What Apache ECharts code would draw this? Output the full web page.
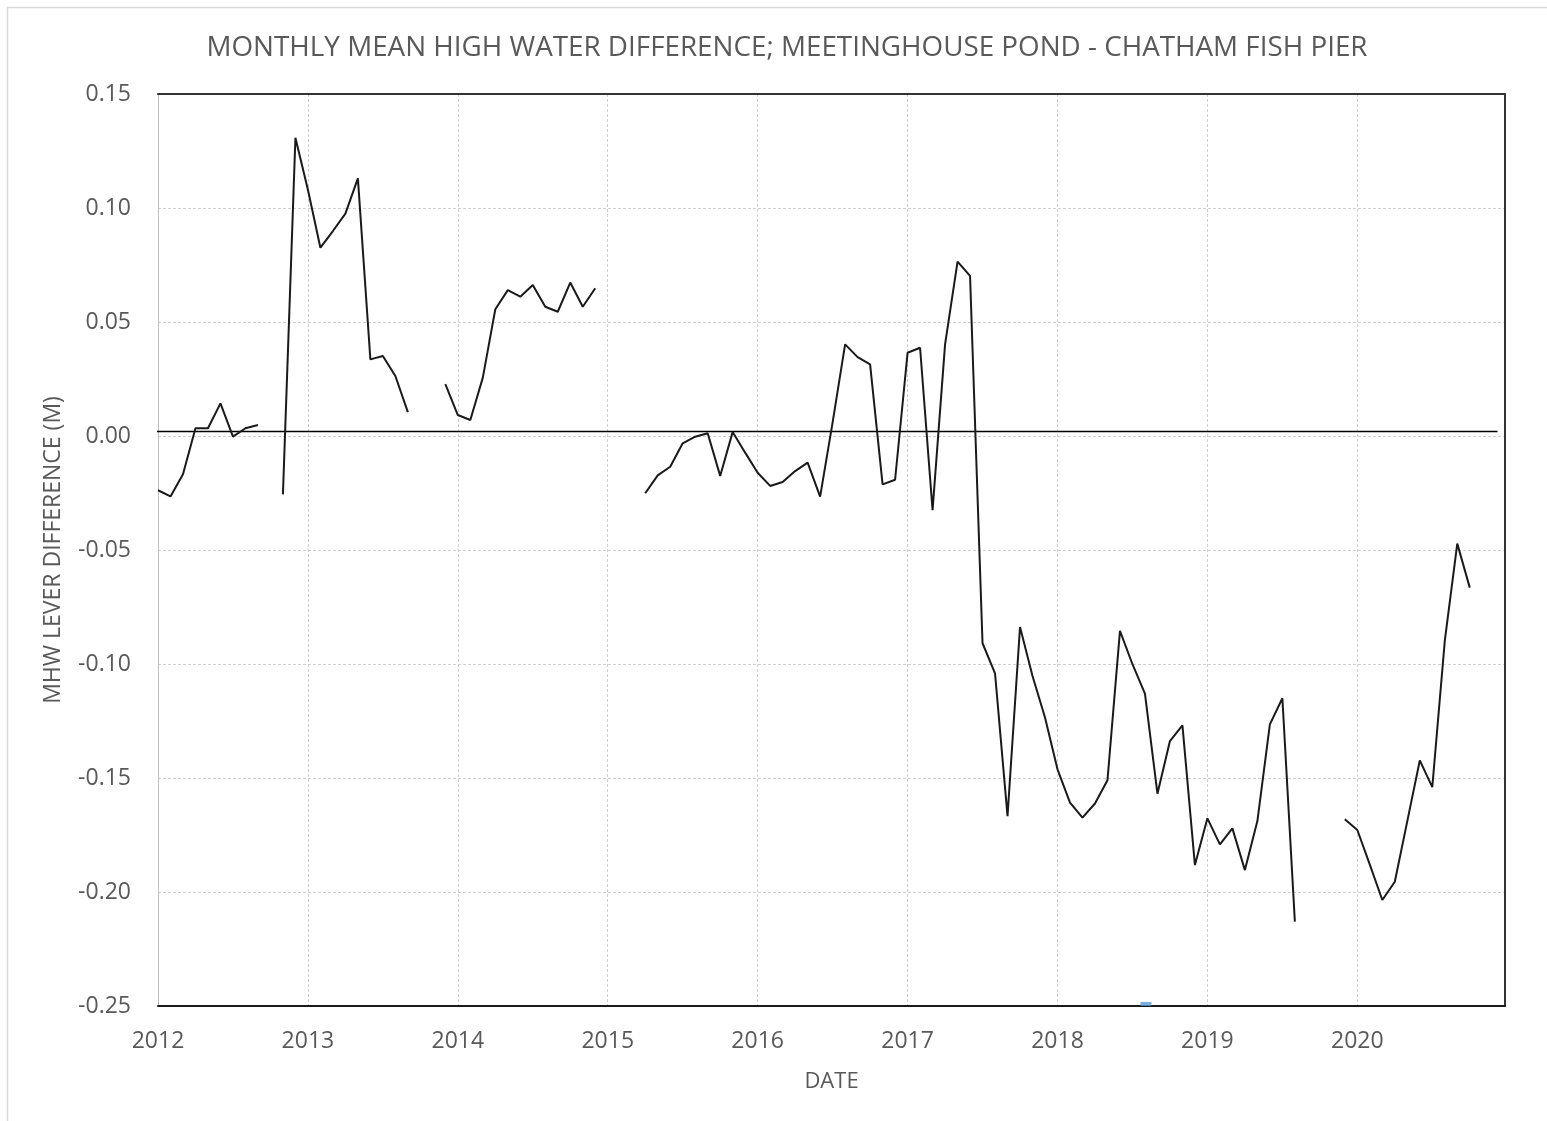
<!DOCTYPE html>
<html>
<head>
<meta charset="utf-8">
<title>Monthly Mean High Water Difference</title>
<script src="https://cdn.jsdelivr.net/npm/echarts@6/dist/echarts.min.js"></script>
<style>
  html, body { margin: 0; padding: 0; background: #ffffff; }
  #chart { width: 1547px; height: 1121px; }
</style>
</head>
<body>
<div id="chart"></div>
<script>
// Monthly mean high water difference (m), Meetinghouse Pond minus Chatham Fish Pier.
// One row per calendar year, January first; null marks months with no record.
const startYear = 2012;
const mhw2012 = [-0.0238, -0.0265, -0.0168, 0.0034, 0.0034, 0.0143, -0.0003, 0.0034, 0.0048, null, -0.0256, 0.1308];
const mhw2013 = [0.108, 0.0826, 0.0899, 0.0975, 0.113, 0.0336, 0.0351, 0.0263, 0.0105, null, null, 0.0227];
const mhw2014 = [0.0092, 0.007, 0.0256, 0.0556, 0.064, 0.0611, 0.0662, 0.0567, 0.0545, 0.0673, 0.0567, 0.0648];
const mhw2015 = [null, null, null, -0.0251, -0.0173, -0.0135, -0.0032, -0.0003, 0.0012, -0.0175, 0.0018, -0.0073];
const mhw2016 = [-0.0161, -0.0219, -0.0202, -0.0154, -0.0117, -0.0266, 0.006, 0.0402, 0.0346, 0.0314, -0.0212, -0.0192];
const mhw2017 = [0.0365, 0.0387, -0.0325, 0.0402, 0.0765, 0.0702, -0.0909, -0.1041, -0.1667, -0.0838, -0.1053, -0.1235];
const mhw2018 = [-0.1462, -0.1608, -0.1674, -0.1612, -0.151, -0.0855, -0.1001, -0.113, -0.1569, -0.1338, -0.1269, -0.1882];
const mhw2019 = [-0.1677, -0.1791, -0.1721, -0.1904, -0.1689, -0.1265, -0.115, -0.213, null, null, null, -0.1681];
const mhw2020 = [-0.1728, -0.188, -0.2035, -0.1955, -0.1689, -0.1423, -0.154, -0.0899, -0.0472, -0.0665];

// Reference level line and its span in decimal years
const zeroLevel = 0.002;
const zeroSpan = [2011.97, 2020.935];

// Small blue marker sitting on the date axis
const bluePoint = [[2018.59, -0.2491]];

// Axis ranges and tick labels
const yearTicks = [2012, 2013, 2014, 2015, 2016, 2017, 2018, 2019, 2020];
const xMax = 2020.985;
const yTicks = [0.15, 0.10, 0.05, 0.00, -0.05, -0.10, -0.15, -0.20, -0.25];

const yearRows = [mhw2012, mhw2013, mhw2014, mhw2015, mhw2016, mhw2017, mhw2018, mhw2019, mhw2020];
const monthly = [];
yearRows.forEach(function (row, y) {
  row.forEach(function (v, m) {
    monthly.push([startYear + y + m / 12, v]);
  });
});

const grey = '#595959';
const font = 'Open Sans';

const chart = echarts.init(document.getElementById('chart'), null, { renderer: 'canvas' });

const option = {
  animation: false,
  backgroundColor: '#ffffff',
  graphic: [{
    type: 'rect',
    shape: { x: 7.5, y: 7.5, width: 2000, height: 2000 },
    style: { fill: 'none', stroke: '#d9d9d9', lineWidth: 1.5 },
    silent: true
  }],
  title: {
    text: 'MONTHLY MEAN HIGH WATER DIFFERENCE; MEETINGHOUSE POND - CHATHAM FISH PIER',
    left: 782,
    textAlign: 'center',
    top: 29,
    textStyle: { fontFamily: font, fontSize: 27.8, fontWeight: 'normal', color: grey }
  },
  grid: { left: 158, right: 42, top: 94, bottom: 115, containLabel: false },
  xAxis: [{
    type: 'value',
    min: yearTicks[0],
    max: xMax,
    interval: 1,
    name: 'DATE',
    nameLocation: 'middle',
    nameGap: 65,
    nameTextStyle: { fontFamily: font, fontSize: 22, color: grey },
    axisLine: { onZero: false, lineStyle: { color: '#1a1a1a', width: 2 } },
    axisTick: { show: false },
    axisLabel: {
      margin: 24, fontFamily: font, fontSize: 23, color: grey, showMaxLabel: false,
      formatter: function (v) { return yearTicks.indexOf(v) >= 0 ? String(v) : ''; }
    },
    splitLine: { show: true, lineStyle: { color: '#d0d0d0', width: 1, type: [3, 2] } }
  }, {
    type: 'value',
    position: 'top',
    min: yearTicks[0],
    max: xMax,
    interval: 1,
    axisLine: { onZero: false, lineStyle: { color: '#333333', width: 2 } },
    axisTick: { show: false },
    axisLabel: { show: false },
    splitLine: { show: false }
  }],
  yAxis: [{
    type: 'value',
    min: yTicks[yTicks.length - 1],
    max: yTicks[0],
    interval: 0.05,
    name: 'MHW LEVER DIFFERENCE (M)',
    nameLocation: 'middle',
    nameGap: 93,
    nameTextStyle: { fontFamily: font, fontSize: 23, color: grey },
    axisLine: { show: true, onZero: false, lineStyle: { color: '#bfbfbf', width: 1 } },
    axisTick: { show: false },
    axisLabel: {
      margin: 27, fontFamily: font, fontSize: 23, color: grey,
      formatter: function (v) { return v.toFixed(2); }
    },
    splitLine: { show: true, lineStyle: { color: '#d0d0d0', width: 1, type: [3, 2] } }
  }, {
    type: 'value',
    position: 'right',
    min: yTicks[yTicks.length - 1],
    max: yTicks[0],
    interval: 0.05,
    axisLine: { show: true, onZero: false, lineStyle: { color: '#333333', width: 2 } },
    axisTick: { show: false },
    axisLabel: { show: false },
    splitLine: { show: false }
  }],
  series: [{
    name: 'Zero level',
    type: 'line',
    clip: false,
    symbol: 'none',
    silent: true,
    data: [[zeroSpan[0], zeroLevel], [zeroSpan[1], zeroLevel]],
    lineStyle: { color: '#000000', width: 1.5 },
    z: 3
  }, {
    name: 'MHW difference',
    type: 'line',
    symbol: 'none',
    connectNulls: false,
    data: monthly,
    lineStyle: { color: '#1a1a1a', width: 2 },
    z: 4
  }, {
    name: 'Marker',
    type: 'scatter',
    symbol: 'rect',
    symbolSize: [11, 4],
    data: bluePoint,
    itemStyle: { color: '#5b9bd5' },
    z: 5
  }]
};

chart.setOption(option);
</script>
</body>
</html>
